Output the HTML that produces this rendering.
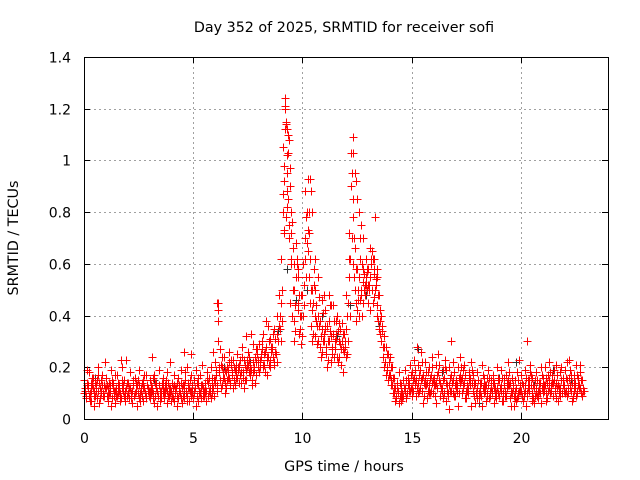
<!DOCTYPE html>
<html><head><meta charset="utf-8"><style>
body{margin:0;background:#fff}
svg{display:block;font-family:"DejaVu Sans","Liberation Sans",sans-serif}
</style></head><body>
<svg id="chart" width="640" height="480">
<rect width="640" height="480" fill="#fff"/>
<text x="344" y="32" text-anchor="middle" font-size="14.3">Day 352 of 2025, SRMTID for receiver sofi</text>
<text x="0" y="0" transform="translate(18,238) rotate(-90)" text-anchor="middle" font-size="14.3">SRMTID / TECUs</text>
<text x="344" y="471" text-anchor="middle" font-size="14.3">GPS time / hours</text>
<g id="grid"></g>
<g id="ticks"></g>
<g id="s1" shape-rendering="crispEdges"></g>
<g id="s2" shape-rendering="crispEdges"></g>
<rect x="84.5" y="57.5" width="524" height="362" fill="none" stroke="#000" stroke-width="1"/>
</svg>
<script>
const xTicks=[0,5,10,15,20];
const yTicks=[0,0.2,0.4,0.6,0.8,1,1.2,1.4];
const yTickLabels=["0","0.2","0.4","0.6","0.8","1","1.2","1.4"];
const hours=[0,1,2,3,4,5,6,7,8,9,10,11,12,13,14,15,16,17,18,19,20,21,22];
const seriesA=[
.10,.08,.13,.07,.12,.09,.15,.06,.11,.09,
.12,.07,.10,.14,.06,.09,.11,.08,.13,.07,
.10,.12,.06,.09,.14,.08,.11,.07,.10,.13,
.08,.11,.06,.12,.09,.07,.13,.10,.06,.09,
.11,.07,.12,.08,.10,.06,.13,.09,.07,.11,
.08,.12,.07,.10,.13,.09,.11,.14,.08,.12,
.15,.11,.18,.13,.16,.12,.19,.14,.17,.13,
.16,.20,.14,.18,.15,.21,.17,.13,.19,.22,
.18,.24,.20,.26,.17,.23,.28,.21,.25,.30,
.45,.80,1.12,.95,.70,.60,.38,.55,.42,.35,
.48,.62,.80,.55,.36,.45,.32,.40,.28,.35,
.30,.25,.38,.22,.33,.27,.40,.24,.30,.26,
.35,.45,.62,.85,.50,.42,.55,.48,.58,.52,
.45,.55,.50,.58,.40,.35,.30,.24,.22,.20,
.17,.13,.10,.08,.11,.07,.09,.12,.10,.14,
.12,.16,.09,.14,.19,.11,.15,.08,.13,.17,
.10,.14,.18,.09,.12,.16,.07,.13,.11,.15,
.09,.13,.17,.10,.14,.08,.12,.16,.11,.06,
.12,.08,.14,.10,.07,.13,.09,.11,.06,.12,
.09,.13,.07,.11,.15,.08,.10,.05,.12,.09,
.11,.07,.13,.09,.15,.10,.06,.12,.08,.14,
.10,.13,.08,.15,.11,.09,.14,.07,.12,.10,
.13,.09,.16,.11,.08,.14,.10,.12,.09];
const seriesB=[
.15,.13,.18,.11,.16,.14,.20,.12,.17,.13,
.16,.12,.19,.14,.11,.17,.13,.20,.15,.12,
.14,.18,.11,.16,.13,.19,.12,.15,.17,.11,
.15,.12,.17,.14,.19,.11,.16,.13,.18,.12,
.14,.17,.12,.16,.19,.13,.15,.20,.12,.17,
.15,.19,.13,.17,.21,.14,.18,.16,.20,.26,
.22,.38,.27,.20,.24,.18,.26,.21,.23,.19,
.25,.21,.28,.23,.32,.26,.20,.29,.24,.27,
.29,.25,.33,.28,.36,.31,.27,.35,.40,.48,
.62,1.05,1.20,1.02,.90,.76,.50,.68,.58,.48,
.60,.88,.68,.72,.50,.58,.44,.55,.38,.46,
.42,.36,.48,.32,.44,.38,.34,.29,.37,.33,
.48,.72,1.03,.78,.66,.58,.70,.60,.56,.62,
.58,.66,.62,.50,.55,.48,.40,.32,.28,.25,
.24,.20,.16,.14,.18,.13,.15,.19,.16,.21,
.18,.23,.15,.21,.26,.17,.22,.14,.20,.24,
.16,.21,.25,.14,.19,.23,.13,.20,.17,.22,
.15,.20,.24,.16,.21,.13,.18,.22,.17,.14,
.18,.14,.21,.16,.13,.19,.15,.17,.12,.20,
.15,.19,.13,.17,.22,.14,.16,.11,.18,.23,
.17,.13,.19,.15,.21,.16,.12,.18,.14,.20,
.16,.20,.14,.22,.17,.15,.21,.13,.18,.16,
.19,.15,.23,.17,.14,.21,.16,.18,.15];
const seriesC=[
.12,.19,.09,.14,.05,.11,.17,.08,.13,.22,
.09,.14,.05,.12,.17,.10,.07,.15,.09,.23,
.12,.08,.15,.10,.05,.13,.09,.17,.08,.12,
.11,.16,.09,.05,.13,.08,.10,.15,.09,.22,
.09,.13,.05,.11,.14,.09,.18,.07,.15,.10,
.11,.05,.16,.08,.12,.10,.15,.11,.13,.09,
.19,.45,.15,.24,.10,.20,.16,.23,.12,.18,
.20,.17,.24,.12,.19,.23,.33,.18,.14,.25,
.23,.30,.21,.38,.24,.20,.33,.26,.22,.36,
.30,.92,.78,1.10,.45,.40,.30,.62,.33,.29,
.40,.70,.93,.45,.30,.52,.38,.30,.24,.30,
.35,.20,.30,.28,.24,.33,.22,.35,.18,.28,
.25,.55,.90,.60,.38,.50,.46,.40,.50,.57,
.50,.60,.45,.78,.44,.38,.34,.20,.17,.15,
.13,.10,.07,.12,.06,.10,.12,.08,.13,.11,
.09,.13,.28,.11,.15,.06,.13,.18,.10,.14,
.13,.06,.15,.12,.08,.20,.11,.04,.14,.09,
.12,.05,.14,.19,.08,.11,.15,.05,.13,.10,
.15,.10,.05,.13,.16,.08,.12,.14,.09,.15,
.12,.07,.16,.09,.13,.05,.12,.15,.08,.11,
.14,.09,.05,.12,.18,.07,.15,.09,.11,.06,
.13,.07,.17,.10,.14,.19,.08,.12,.20,.13,
.10,.22,.12,.07,.17,.09,.13,.21,.11];
const seriesD=[
.11,.14,.10,.16,.09,.13,.11,.15,.10,.12,
.13,.10,.15,.09,.12,.14,.10,.12,.11,.14,
.12,.10,.13,.11,.15,.10,.14,.12,.09,.11,
.13,.10,.14,.11,.08,.13,.11,.12,.14,.10,
.12,.10,.14,.13,.08,.12,.10,.14,.11,.13,
.10,.14,.11,.12,.09,.12,.14,.10,.16,.15,
.17,.30,.21,.16,.19,.15,.22,.18,.20,.16,
.19,.23,.18,.21,.20,.24,.19,.22,.27,.20,
.22,.27,.25,.23,.30,.26,.24,.31,.33,.40,
.50,.98,1.15,.85,.80,.66,.44,.60,.48,.40,
.52,.78,.73,.62,.42,.50,.36,.47,.32,.41,
.36,.30,.44,.27,.38,.31,.37,.27,.33,.30,
.40,.62,.95,.70,.58,.46,.62,.53,.52,.58,
.52,.62,.56,.54,.48,.42,.36,.28,.25,.22,
.20,.16,.12,.11,.14,.10,.12,.15,.13,.17,
.15,.19,.12,.17,.22,.14,.18,.11,.16,.20,
.13,.17,.21,.12,.15,.19,.10,.16,.14,.18,
.12,.16,.20,.13,.17,.11,.15,.19,.14,.10,
.15,.11,.17,.13,.10,.16,.12,.14,.10,.16,
.12,.16,.10,.14,.18,.11,.13,.08,.15,.13,
.14,.10,.16,.12,.17,.13,.09,.15,.11,.17,
.13,.16,.11,.18,.14,.12,.17,.10,.15,.13,
.16,.12,.19,.14,.11,.17,.13,.15,.12];
const seriesE=[
.09,.12,.07,.13,.11,.08,.14,.10,.09,.12,
.10,.13,.08,.11,.09,.13,.08,.11,.10,.09,
.08,.11,.09,.13,.10,.07,.12,.10,.13,.09,
.10,.08,.12,.09,.11,.14,.08,.11,.12,.07,
.08,.12,.09,.10,.12,.08,.11,.12,.09,.08,
.12,.09,.10,.13,.11,.07,.09,.12,.10,.14,
.13,.20,.12,.18,.14,.16,.13,.17,.15,.21,
.14,.18,.16,.15,.23,.18,.15,.20,.17,.23,
.20,.21,.18,.24,.21,.28,.22,.25,.30,.35,
.38,.72,.88,.75,.62,.50,.34,.45,.40,.32,
.44,.55,.65,.50,.33,.40,.29,.36,.26,.33,
.28,.23,.34,.25,.30,.24,.30,.21,.27,.24,
.30,.40,.70,.55,.45,.40,.50,.45,.48,.50,
.42,.50,.47,.52,.38,.33,.28,.22,.19,.17,
.15,.12,.09,.10,.09,.08,.11,.10,.11,.12,
.11,.14,.10,.12,.16,.09,.13,.10,.11,.15,
.09,.12,.15,.11,.10,.14,.09,.11,.10,.13,
.11,.10,.15,.12,.11,.10,.13,.14,.09,.08,
.10,.09,.12,.11,.09,.11,.10,.12,.08,.10,
.11,.10,.09,.12,.13,.10,.09,.07,.10,.11,
.09,.11,.10,.11,.13,.08,.10,.11,.10,.12,
.11,.10,.12,.13,.09,.11,.12,.09,.10,.11,
.11,.10,.13,.09,.12,.11,.12,.10,.11];
const spikeTimes=[9.2,9.22,9.25,9.3,9.4,9.35,9.45,9.1,9.3,9.5,9.15,10.35,10.4,10.3,10.45,12.3,12.3,12.4,12.45,12.5,12.6,12.7,12.8,13.2,13.3,13.4,9.6,9.8,6.1,6.15,10.6,11.0,11.3,12.9,13.0,1.7,3.1,4.6,4.9,16.8,20.3];
const spikeValues=[1.24,1.21,1.14,1.12,1.08,1.03,0.97,0.87,0.82,0.72,0.73,0.93,0.88,0.80,0.80,1.09,1.03,0.95,0.92,0.85,0.80,0.75,0.70,0.65,0.62,0.58,0.60,0.55,0.45,0.42,0.62,0.48,0.44,0.55,0.52,0.23,0.24,0.26,0.25,0.30,0.30];
const darkTimes=[0.5,1.8,3.2,4.6,6.4,7.6,8.9,9.3,9.7,10.2,10.9,11.6,12.2,12.9,13.5,14.6,15.3,16.4,17.2,18.1,19.0,19.8,20.6,21.5,22.3];
const darkValues=[0.16,0.12,0.15,0.11,0.2,0.22,0.34,0.58,0.46,0.5,0.4,0.32,0.44,0.48,0.36,0.15,0.27,0.18,0.14,0.06,0.16,0.22,0.13,0.19,0.15];

const X0=84,X1=608,Y0=419,Y1=57;
const xScale=h=>X0+h*(X1-X0)/24;
const yScale=v=>Y0-v*(Y0-Y1)/1.4;
const NS="http://www.w3.org/2000/svg";
function el(tag,attrs,parent){const e=document.createElementNS(NS,tag);for(const k in attrs)e.setAttribute(k,attrs[k]);parent.appendChild(e);return e;}
const grid=document.getElementById('grid'),ticks=document.getElementById('ticks');
xTicks.forEach(t=>{const x=Math.round(xScale(t))+0.5;
 if(t>0){const g=el('line',{x1:x,x2:x,y1:Y1,y2:Y0,stroke:'#a0a0a0','stroke-dasharray':'2,3'},grid);
 
 }
 el('line',{x1:x,x2:x,y1:Y0,y2:Y0-6,stroke:'#000'},ticks);
 el('line',{x1:x,x2:x,y1:Y1,y2:Y1+6,stroke:'#000'},ticks);
 const l=el('text',{x:x,y:443,'text-anchor':'middle','font-size':14},ticks);l.textContent=t;
 
 
});
yTicks.forEach((t,i)=>{const y=Math.round(yScale(t))+0.5;
 if(t>0&&t<1.4){const g=el('line',{x1:X0,x2:X1,y1:y,y2:y,stroke:'#a0a0a0','stroke-dasharray':'2,3'},grid);
 
 }
 el('line',{x1:X0,x2:X0+6,y1:y,y2:y,stroke:'#000'},ticks);
 el('line',{x1:X1,x2:X1-6,y1:y,y2:y,stroke:'#000'},ticks);
 const l=el('text',{x:71,y:y+5,'text-anchor':'end','font-size':14},ticks);l.textContent=yTickLabels[i];
 
 
});
function plus(h,v,color,parent){const x=Math.round(xScale(h))+0.5,y=Math.round(yScale(v))+0.5;
 const p=el('path',{d:`M${x-4} ${y}H${x+4}M${x} ${y-4}V${y+4}`,stroke:color,'stroke-width':1,fill:'none'},parent);
 
 }
const s1=document.getElementById('s1'),s2=document.getElementById('s2');
darkTimes.forEach((t,i)=>plus(t,darkValues[i],'#303030',s1));
[seriesA,seriesB,seriesC,seriesD,seriesE].forEach((arr,k)=>arr.forEach((v,i)=>{const t=hours[Math.floor(i/10)]+(i%10)*0.1+k*0.02;plus(t,v,'#ff0000',s2);}));
spikeTimes.forEach((t,i)=>plus(t,spikeValues[i],'#ff0000',s2));
</script>
</body></html>
